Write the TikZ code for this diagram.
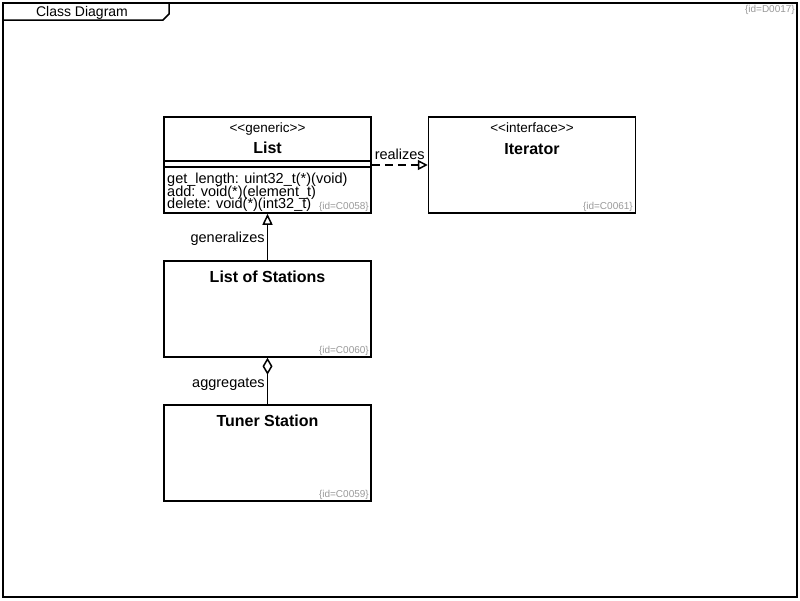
\documentclass[tikz,border=0pt]{standalone}
\usepackage{fontspec}
\setmainfont{Liberation Sans}
\usetikzlibrary{arrows.meta}

\tikzset{
  classbox/.style={draw, line width=1.5pt, minimum width=207pt, minimum height=96pt, inner sep=0pt},
  stereo/.style={anchor=base, inner sep=0pt, font=\fontsize{13.5}{15}\selectfont},
  classname/.style={anchor=base, inner sep=0pt, font=\fontsize{16}{18}\bfseries},
  opline/.style={anchor=base west, inner sep=0pt, font=\fontsize{14.5}{16}\selectfont},
  idtag/.style={anchor=base east, inner sep=0pt, text=black!40, font=\fontsize{10}{12}\selectfont},
  relname/.style={inner sep=0pt, font=\fontsize{14.5}{16}\selectfont},
  relline/.style={line width=1.5pt}
}

\begin{document}
\begin{tikzpicture}[x=1pt, y=-1pt]
  \useasboundingbox (0,0) rectangle (800,600);

  % Frame
  \draw[line width=1.5pt] (3,3) rectangle (797,597);
  \draw[line width=1.5pt] (3,20) -- (163,20) -- (169,14) -- (169,3);
  \node[anchor=base, inner sep=0pt, font=\fontsize{14}{16}\selectfont] (frametitle) at (82,16) {Class Diagram};
  \node[idtag] (frameid) at (795,12) {\{id=D0017\}};

  % Classes
  \node[classbox] (list) at (267.5,165) {};
  \node[classbox] (iterator) at (532,165) {};
  \node[classbox] (stations) at (267.5,309) {};
  \node[classbox] (tuner) at (267.5,453) {};

  % List
  \node[stereo] (liststereo) at (267.5,132) {<{}<generic>{}>};
  \node[classname] (listname) at (267.5,153) {List};
  \draw[line width=1.5pt] (164,161) -- (371,161);
  \draw[line width=1.5pt] (164,167) -- (371,167);
  \node[opline] (oplength) at (167,183.5) {get\_length: uint32\_t(*)(void)};
  \node[opline] (opadd) at (167,196) {add: void(*)(element\_t)};
  \node[opline] (opdelete) at (167,208.5) {delete: void(*)(int32\_t)};
  \node[idtag] (listid) at (369,209) {\{id=C0058\}};

  % Iterator
  \node[stereo] (iterstereo) at (532,132) {<{}<interface>{}>};
  \node[classname] (itername) at (532,154) {Iterator};
  \node[idtag] (iterid) at (633,209) {\{id=C0061\}};

  % List of Stations
  \node[classname] (stationsname) at (267.5,282) {List of Stations};
  \node[idtag] (stationsid) at (369,353) {\{id=C0060\}};

  % Tuner Station
  \node[classname] (tunername) at (267.5,426) {Tuner Station};
  \node[idtag] (tunerid) at (369,497) {\{id=C0059\}};

  % Relations
  \draw[relline, dash pattern=on 8pt off 5pt, -{Triangle[open, length=10pt, width=10pt]}] (list.east) -- (iterator.west)
    node[midway, above=5pt, relname] (realizes) {realizes};
  \draw[relline, -{Triangle[open, length=11pt, width=10pt]}] (stations.north) -- (list.south)
    node[midway, left=2pt, yshift=-2pt, relname] (generalizes) {generalizes};
  \draw[relline, -{Diamond[open, length=17pt, width=10pt]}] (tuner.north) -- (stations.south)
    node[midway, left=2pt, yshift=-3pt, relname] (aggregates) {aggregates};
\end{tikzpicture}
\end{document}
